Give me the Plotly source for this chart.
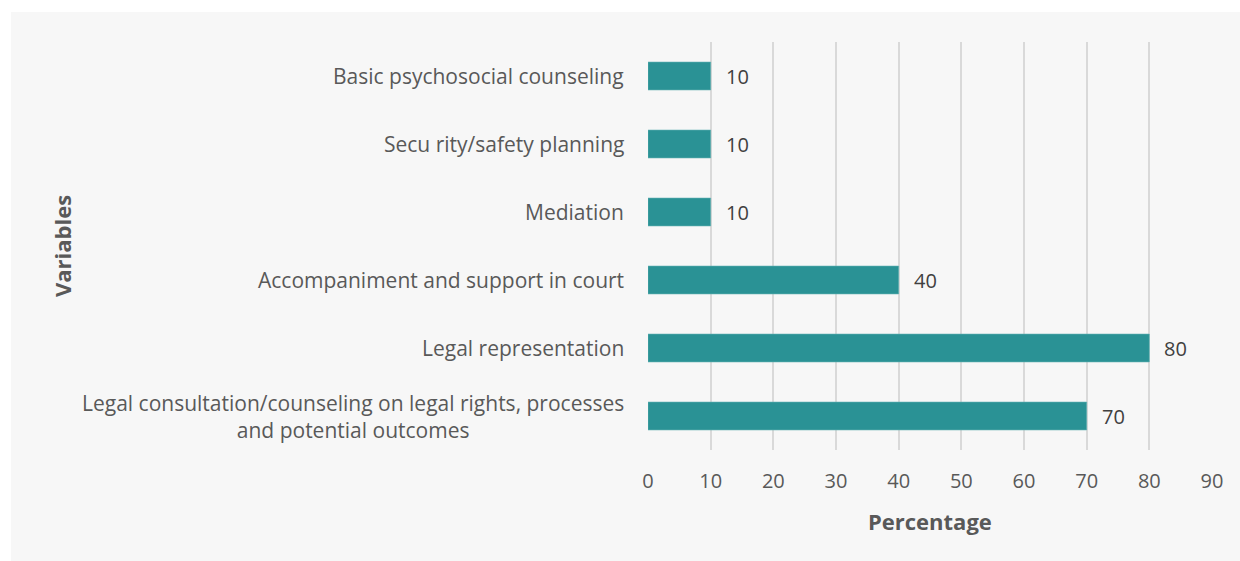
import plotly.graph_objects as go

categories = [
    "Legal consultation/counseling on legal rights, processes<br>and potential outcomes",
    "Legal representation",
    "Accompaniment and support in court",
    "Mediation",
    "Secu rity/safety planning",
    "Basic psychosocial counseling",
]
values = [70, 80, 40, 10, 10, 10]
x_ticks = [0, 10, 20, 30, 40, 50, 60, 70, 80, 90]

BAR = "#2A9295"
TXT = "#595959"
FONT = "Open Sans"

fig = go.Figure(go.Bar(
    x=values, y=categories, orientation="h",
    marker=dict(color=BAR, line=dict(color="#5fb0b2", width=0.6)),
    width=0.41, hoverinfo="skip",
))

W, H = 1240, 561
L, R, T, B = 648, 28, 42, 111
pw, ph = W - L - R, H - T - B

def px_x(p):
    return (p - L) / pw

def px_y(p):
    return (H - B - p) / ph

annotations = []
for c in categories:
    annotations.append(dict(
        x=px_x(626), xref="paper", y=c, yref="y",
        text=c, showarrow=False, xanchor="right", yanchor="middle",
        align="center", font=dict(family=FONT, size=21, color=TXT),
    ))
for c, v in zip(categories, values):
    annotations.append(dict(
        x=v, xref="x", y=c, yref="y", text=str(v), showarrow=False,
        xanchor="left", yanchor="middle", xshift=13,
        font=dict(family=FONT, size=20, color="#404040"),
    ))
annotations.append(dict(
    x=px_x(62), xref="paper", y=0.5, yref="paper", text="<b>Variables</b>",
    textangle=-90, showarrow=False, xanchor="center", yanchor="middle",
    font=dict(family=FONT, size=22, color=TXT),
))
annotations.append(dict(
    x=0.5, xref="paper", y=px_y(521), yref="paper", text="<b>Percentage</b>",
    showarrow=False, xanchor="center", yanchor="middle",
    font=dict(family=FONT, size=22, color=TXT),
))

fig.update_layout(
    width=W, height=H,
    margin=dict(l=L, r=R, t=T, b=B),
    paper_bgcolor="white", plot_bgcolor="rgba(0,0,0,0)",
    showlegend=False,
    annotations=annotations,
    shapes=[dict(
        type="rect", xref="paper", yref="paper", layer="below",
        x0=px_x(11), x1=px_x(1245), y0=px_y(566), y1=px_y(12),
        fillcolor="#F7F7F7", line=dict(width=0),
    )],
    xaxis=dict(
        range=[0, 90], tickvals=x_ticks, showgrid=True, gridcolor="#D9D9D9",
        gridwidth=1.8, zeroline=False, showline=False,
        tickfont=dict(family=FONT, size=20, color=TXT),
        ticks="", ticklabelstandoff=17,
    ),
    yaxis=dict(
        categoryorder="array", categoryarray=categories,
        showticklabels=False, showgrid=False, zeroline=False, showline=False,
        range=[-0.5, 5.5],
    ),
)

fig.write_html(
    "out.html",
    config={"displayModeBar": False},
    post_script="document.body.style.margin='0';document.body.style.overflow='hidden';",
)
